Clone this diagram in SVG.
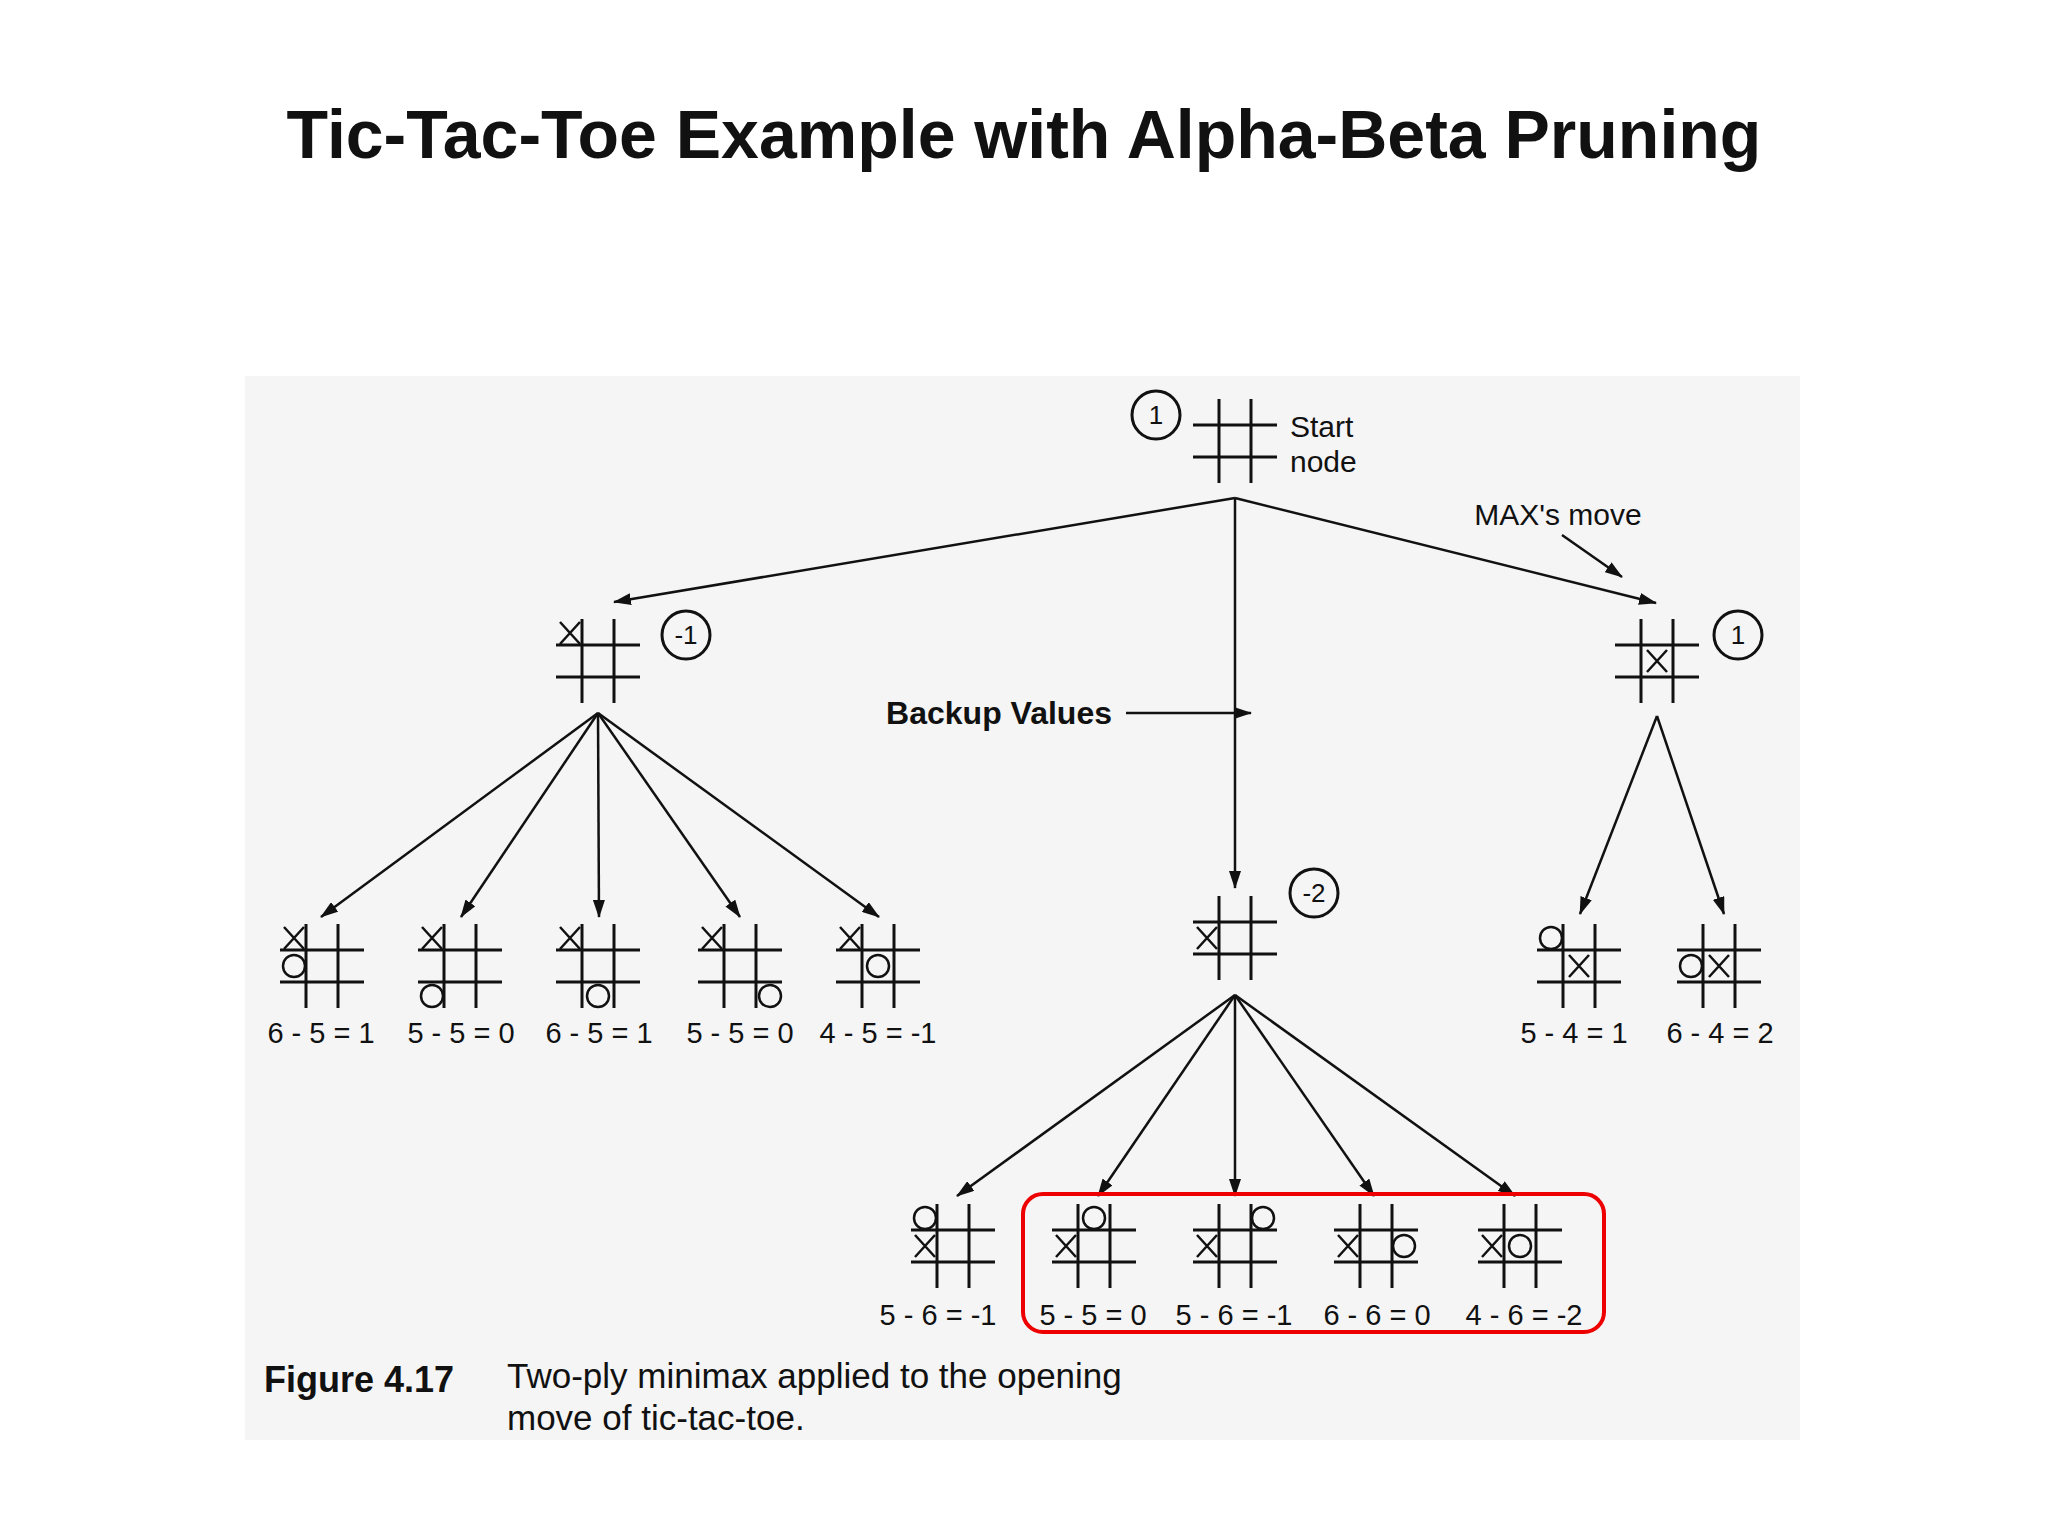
<svg xmlns="http://www.w3.org/2000/svg" xmlns:xlink="http://www.w3.org/1999/xlink" width="2048" height="1536" viewBox="0 0 2048 1536">
<style>
.g{stroke:#111;stroke-width:3;fill:none}
.m{stroke:#111;stroke-width:2.5;fill:none}
.c{stroke:#111;stroke-width:3;fill:none}
.t{font-family:"Liberation Sans",Arial,sans-serif;fill:#111}
.lbl{font-family:"Liberation Sans",Arial,sans-serif;font-size:29px;fill:#111;text-anchor:middle}
.v{font-family:"Liberation Sans",Arial,sans-serif;font-size:26px;fill:#111;text-anchor:middle}
.a{stroke:#111;stroke-width:2.5;fill:none;marker-end:url(#ah)}
</style>
<defs>
<marker id="ah" markerWidth="18" markerHeight="12" refX="17" refY="6" orient="auto" markerUnits="userSpaceOnUse" viewBox="0 0 18 12"><path d="M0,0 L18,6 L0,12 Z" fill="#111"/></marker>
<g id="grid" class="g"><line x1="-16" y1="-42" x2="-16" y2="42"/><line x1="16" y1="-42" x2="16" y2="42"/><line x1="-42" y1="-16" x2="42" y2="-16"/><line x1="-42" y1="16" x2="42" y2="16"/></g>
<path id="x" class="m" d="M-10,-11 L10,11 M10,-11 L-10,11"/>
<circle id="o" class="m" r="11"/>
</defs>
<rect width="2048" height="1536" fill="#fff"/>
<rect x="245" y="376" width="1555" height="1064" fill="#f5f5f5"/>
<text class="t" x="1024" y="158" font-size="68" font-weight="bold" text-anchor="middle">Tic-Tac-Toe Example with Alpha-Beta Pruning</text>

<g id="connectors">
<line class="a" x1="1235" y1="498" x2="614" y2="602"/>
<line class="a" x1="1235" y1="498" x2="1235" y2="888"/>
<line class="a" x1="1235" y1="498" x2="1656" y2="603"/>
<line class="a" x1="1562" y1="535" x2="1622" y2="577"/>
<line class="a" x1="1126" y1="713" x2="1251" y2="713"/>
<line class="a" x1="598" y1="713" x2="321" y2="917"/>
<line class="a" x1="598" y1="713" x2="461" y2="917"/>
<line class="a" x1="598" y1="713" x2="599" y2="917"/>
<line class="a" x1="598" y1="713" x2="740" y2="917"/>
<line class="a" x1="598" y1="713" x2="879" y2="917"/>
<line class="a" x1="1657" y1="716" x2="1580" y2="914"/>
<line class="a" x1="1657" y1="716" x2="1724" y2="914"/>
<line class="a" x1="1235" y1="995" x2="957" y2="1196"/>
<line class="a" x1="1235" y1="995" x2="1098" y2="1196"/>
<line class="a" x1="1235" y1="995" x2="1235" y2="1196"/>
<line class="a" x1="1235" y1="995" x2="1374" y2="1196"/>
<line class="a" x1="1235" y1="995" x2="1515" y2="1196"/>
</g>

<g id="start"><use href="#grid" x="1235" y="441"/><circle class="c" cx="1156" cy="415" r="24"/><text class="v" x="1156" y="424">1</text>
<text class="t" x="1290" y="437" font-size="30">Start</text><text class="t" x="1290" y="472" font-size="30">node</text></g>
<text id="maxmove" class="t" x="1558" y="525" font-size="30" text-anchor="middle">MAX's move</text>
<text id="backup" class="t" x="1112" y="724" font-size="32" font-weight="bold" text-anchor="end">Backup Values</text>

<g id="n1"><use href="#grid" x="598" y="661"/><use href="#x" x="570" y="633"/><circle class="c" cx="686" cy="635" r="24"/><text class="v" x="686" y="644">-1</text></g>
<g id="n2"><use href="#grid" x="1235" y="938"/><use href="#x" x="1207" y="938"/><circle class="c" cx="1314" cy="893" r="24"/><text class="v" x="1314" y="902">-2</text></g>
<g id="n3"><use href="#grid" x="1657" y="661"/><use href="#x" x="1657" y="661"/><circle class="c" cx="1738" cy="635" r="24"/><text class="v" x="1738" y="644">1</text></g>

<g id="l1"><use href="#grid" x="322" y="966"/><use href="#x" x="294" y="938"/><use href="#o" x="294" y="966"/><text class="lbl" x="321" y="1043">6 - 5 = 1</text></g>
<g id="l2"><use href="#grid" x="460" y="966"/><use href="#x" x="432" y="938"/><use href="#o" x="432" y="996"/><text class="lbl" x="461" y="1043">5 - 5 = 0</text></g>
<g id="l3"><use href="#grid" x="598" y="966"/><use href="#x" x="570" y="938"/><use href="#o" x="598" y="996"/><text class="lbl" x="599" y="1043">6 - 5 = 1</text></g>
<g id="l4"><use href="#grid" x="740" y="966"/><use href="#x" x="712" y="938"/><use href="#o" x="770" y="996"/><text class="lbl" x="740" y="1043">5 - 5 = 0</text></g>
<g id="l5"><use href="#grid" x="878" y="966"/><use href="#x" x="850" y="938"/><use href="#o" x="878" y="966"/><text class="lbl" x="878" y="1043">4 - 5 = -1</text></g>

<g id="r1"><use href="#grid" x="1579" y="966"/><use href="#x" x="1579" y="966"/><use href="#o" x="1551" y="938"/><text class="lbl" x="1574" y="1043">5 - 4 = 1</text></g>
<g id="r2"><use href="#grid" x="1719" y="966"/><use href="#x" x="1719" y="966"/><use href="#o" x="1691" y="966"/><text class="lbl" x="1720" y="1043">6 - 4 = 2</text></g>

<g id="m1"><use href="#grid" x="953" y="1246"/><use href="#x" x="925" y="1246"/><use href="#o" x="925" y="1218"/><text class="lbl" x="938" y="1325">5 - 6 = -1</text></g>
<g id="m2"><use href="#grid" x="1094" y="1246"/><use href="#x" x="1066" y="1246"/><use href="#o" x="1094" y="1218"/><text class="lbl" x="1093" y="1325">5 - 5 = 0</text></g>
<g id="m3"><use href="#grid" x="1235" y="1246"/><use href="#x" x="1207" y="1246"/><use href="#o" x="1263" y="1218"/><text class="lbl" x="1234" y="1325">5 - 6 = -1</text></g>
<g id="m4"><use href="#grid" x="1376" y="1246"/><use href="#x" x="1348" y="1246"/><use href="#o" x="1404" y="1246"/><text class="lbl" x="1377" y="1325">6 - 6 = 0</text></g>
<g id="m5"><use href="#grid" x="1520" y="1246"/><use href="#x" x="1492" y="1246"/><use href="#o" x="1520" y="1246"/><text class="lbl" x="1524" y="1325">4 - 6 = -2</text></g>

<rect id="highlight" x="1023" y="1194" width="581" height="138" rx="20" fill="none" stroke="#e00" stroke-width="4"/>

<g id="caption"><text class="t" x="264" y="1392" font-size="36" font-weight="bold">Figure 4.17</text>
<text class="t" x="507" y="1388" font-size="35">Two-ply minimax applied to the opening</text>
<text class="t" x="507" y="1430" font-size="35">move of tic-tac-toe.</text></g>
</svg>
